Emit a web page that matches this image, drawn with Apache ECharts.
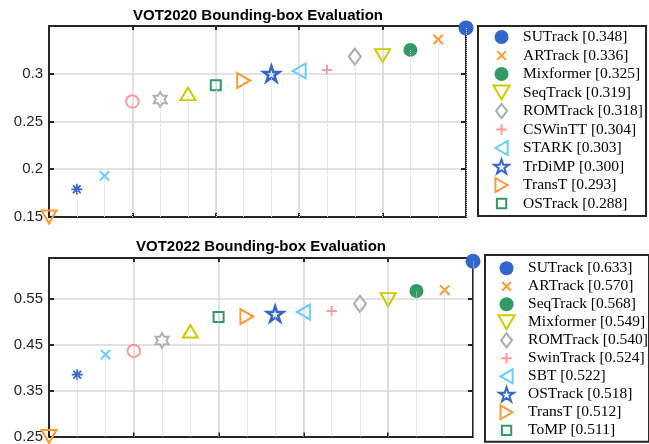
<!DOCTYPE html>
<html>
<head>
<meta charset="utf-8">
<script src="https://cdn.jsdelivr.net/npm/echarts@6/dist/echarts.min.js"></script>
<style>
  html, body { margin: 0; padding: 0; background: #fff; }
  #main { width: 649px; height: 444px; }
</style>
</head>
<body>
<div id="main"></div>
<script>
// trackers sorted by score, x position 1..16
var positions = [1, 2, 3, 4, 5, 6, 7, 8, 9, 10, 11, 12, 13, 14, 15, 16];
var vot2020Scores = [0.150, 0.179, 0.193, 0.271, 0.273, 0.279, 0.288, 0.293, 0.300, 0.303, 0.304, 0.318, 0.319, 0.325, 0.336, 0.348];
var vot2022Scores = [0.250, 0.385, 0.429, 0.437, 0.460, 0.480, 0.511, 0.512, 0.518, 0.522, 0.524, 0.540, 0.549, 0.568, 0.570, 0.633];
var vot2020Names = ['', '', '', '', '', '', 'OSTrack', 'TransT', 'TrDiMP', 'STARK', 'CSWinTT', 'ROMTrack', 'SeqTrack', 'Mixformer', 'ARTrack', 'SUTrack'];
var vot2022Names = ['', '', '', '', '', '', 'ToMP', 'TransT', 'OSTrack', 'SBT', 'SwinTrack', 'ROMTrack', 'Mixformer', 'SeqTrack', 'ARTrack', 'SUTrack'];
var titles = ['VOT2020 Bounding-box Evaluation', 'VOT2022 Bounding-box Evaluation'];

var blue = '#3366cc', orange = '#ff9933', green = '#339966', yellow = '#cccc00',
    gray = '#aaaaaa', pink = '#ff9999', ltblue = '#66ccff';

// marker shapes (like matlab markers)
function starPath (n, rIn) {
  var pts = [];
  for (var k = 0; k < 2 * n; k++) {
    var a = (-90 + k * 180 / n) * Math.PI / 180;
    var r = k % 2 === 0 ? 1 : rIn;
    pts.push((r * Math.cos(a)).toFixed(4) + ',' + (r * Math.sin(a)).toFixed(4));
  }
  return 'path://M' + pts.join('L') + 'Z';
}
var triUp = 'path://M0,-1L1.15,1L-1.15,1Z';
var triDown = 'path://M0,1L1.15,-1L-1.15,-1Z';
var triLeft = 'path://M-1,0L1,-1.15L1,1.15Z';
var triRight = 'path://M1,0L-1,-1.15L-1,1.15Z';
var cross = 'path://M-1.6,-1.6M-1,-1L1,1M-1,1L1,-1M1.6,1.6';
var plus = 'path://M-1.35,-1.35M0,-1L0,1M-1,0L1,0M1.35,1.35';
var square = 'path://M-1.5,-1.5M-1,-1L1,-1L1,1L-1,1ZM1.5,1.5';
var diamond = 'path://M0,-1L0.78,0L0,1L-0.78,0Z';
var asterisk = 'path://M0,-1L0,1M-1,0L1,0M-0.7,-0.7L0.7,0.7M-0.7,0.7L0.7,-0.7';
var pentagram = starPath(5, 0.382);
var hexagram = starPath(6, 0.577);

var markers = [
  { sym: triDown, size: [15, 13], color: orange },
  { sym: asterisk, size: 11, color: blue, lw: 1.8 },
  { sym: cross, size: 15, color: ltblue },
  { sym: 'circle', size: 12.5, color: pink },
  { sym: hexagram, size: 15, color: '#b0b0b0', keep: true },
  { sym: triUp, size: [15, 12.5], color: yellow },
  { sym: square, size: 15, color: green },
  { sym: triRight, size: [13, 15], color: orange },
  { sym: pentagram, size: 16, color: blue, keep: true, lw: 2.5 },
  { sym: triLeft, size: [13, 15], color: ltblue },
  { sym: plus, size: 14, color: pink },
  { sym: diamond, size: [12, 16], color: gray },
  { sym: triDown, size: [15, 13], color: yellow },
  { sym: 'circle', size: 14, color: green, filled: true },
  { sym: cross, size: 15, color: orange },
  { sym: 'circle', size: 15, color: blue, filled: true }
];

var panels = [
  { scores: vot2020Scores, names: vot2020Names, yMin: 0.15, yMax: 0.35, step: 0.05,
    grid: { left: 49, right: 183, top: 26, bottom: 227 },
    legend: { left: 478, top: 26, gap: 2.5, padding: [3, 3, 4.5, 14.5] }, titleX: 258, titleY: 16 },
  { scores: vot2022Scores, names: vot2022Names, yMin: 0.25, yMax: 0.64, step: 0.1,
    grid: { left: 49, right: 176, top: 258, bottom: 2 },
    legend: { left: 485, top: 255, gap: 2, padding: [5.3, 1, 3.5, 12.5] }, titleX: 261, titleY: 246.5 }
];

var axisColor = '#262626';
var option = {
  animation: false,
  grid: [], xAxis: [], yAxis: [], series: [], legend: [], graphic: []
};

panels.forEach(function (p, pi) {
  option.grid.push(Object.assign({ containLabel: false }, p.grid));
  var xBase = { type: 'value', gridIndex: pi, min: 1, max: 16, interval: 3,
    axisLine: { lineStyle: { color: axisColor, width: 2 } },
    axisTick: { inside: true, length: 4, lineStyle: { color: axisColor, width: 2 } },
    axisLabel: { show: false } };
  option.xAxis.push(Object.assign({}, xBase, { position: 'bottom',
    splitLine: { show: true, lineStyle: { color: '#d9d9d9', width: 1.5 } } }));
  option.xAxis.push(Object.assign({}, xBase, { position: 'top', splitLine: { show: false } }));
  var yBase = { type: 'value', gridIndex: pi, min: p.yMin, max: p.yMax, interval: p.step,
    axisLine: { lineStyle: { color: axisColor, width: 2 } },
    axisTick: { inside: true, length: 5, lineStyle: { color: axisColor, width: 2 } } };
  option.yAxis.push(Object.assign({}, yBase, { position: 'left',
    splitLine: { show: true, lineStyle: { color: '#d9d9d9', width: 1.5 } },
    axisLabel: { show: true, showMaxLabel: false, margin: 6, color: axisColor,
      fontFamily: 'Liberation Sans', fontSize: 15,
      formatter: function (v) { return String(Math.round(v * 100) / 100); } } }));
  option.yAxis.push(Object.assign({}, yBase, { position: 'right',
    splitLine: { show: false }, axisLabel: { show: false } }));

  var legendNames = [];
  positions.forEach(function (x, i) {
    var m = markers[i];
    var y = p.scores[i];
    var name = p.names[i] ? p.names[i] + ' [' + y.toFixed(3) + ']' : '_p' + pi + '_' + i;
    if (p.names[i]) legendNames.unshift(name);
    option.series.push({
      type: 'scatter',
      name: name,
      xAxisIndex: pi * 2,
      yAxisIndex: pi * 2,
      clip: false,
      symbol: m.sym,
      symbolSize: m.size,
      symbolKeepAspect: !!m.keep,
      itemStyle: m.filled
        ? { color: m.color, borderWidth: 0, opacity: 1 }
        : { color: 'rgba(255,255,255,0)', borderColor: m.color, borderWidth: m.lw || 2, opacity: 1 },
      emphasis: { disabled: true },
      data: [[x, y]],
      markLine: {
        silent: true, symbol: 'none', animation: false,
        label: { show: false },
        lineStyle: { type: 'dotted', color: '#d2d2d2', width: 1 },
        emphasis: { disabled: true },
        data: [[{ coord: [x, p.yMin] }, { coord: [x, y] }]]
      }
    });
  });

  option.legend.push({
    orient: 'vertical',
    left: p.legend.left,
    top: p.legend.top,
    data: legendNames,
    itemWidth: 33,
    itemHeight: 14,
    itemGap: p.legend.gap,
    padding: p.legend.padding,
    borderColor: axisColor,
    borderWidth: 2,
    backgroundColor: '#fff',
    selectedMode: false,
    itemStyle: { opacity: 1 },
    textStyle: { fontFamily: 'Liberation Serif', fontSize: 15.5, color: '#000', lineHeight: 16 }
  });

  option.graphic.push({
    type: 'text', x: p.titleX, y: p.titleY,
    style: { text: titles[pi], fill: '#000', font: 'bold 15px "Liberation Sans"',
      textAlign: 'center', textVerticalAlign: 'middle' }
  });
});

var myChart = echarts.init(document.getElementById('main'));
myChart.setOption(option);
</script>
</body>
</html>
